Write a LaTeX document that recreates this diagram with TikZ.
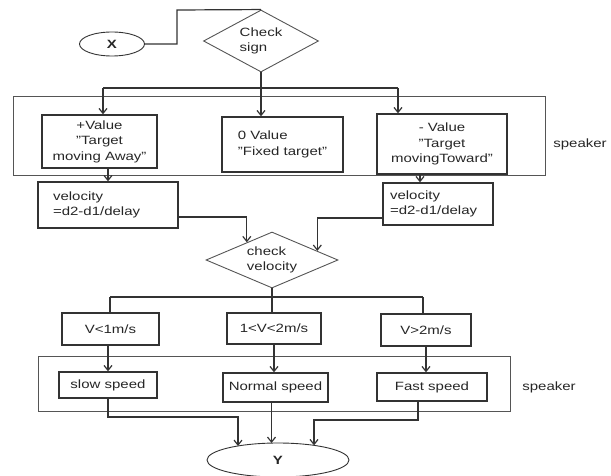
\documentclass[tikz,border=0pt]{standalone}
\usepackage{fontspec}
\setmainfont{Liberation Sans}[FakeStretch=1.25]
\usetikzlibrary{shapes.geometric,arrows.meta,calc}
\definecolor{lc}{HTML}{333333}
\definecolor{tc}{HTML}{262626}
\definecolor{fc}{HTML}{555555}
\definecolor{dc}{HTML}{555555}
\tikzset{
  every node/.style={text=tc, font=\fontsize{12}{15.5}\selectfont},
  box/.style={draw=lc, line width=1.3pt, align=center, inner sep=0pt},
  frame/.style={draw=fc, line width=1pt, inner sep=0pt},
  dec/.style={diamond, draw=dc, line width=0.9pt, aspect=2, inner sep=0pt, align=left},
  term/.style={ellipse, draw=lc, line width=0.9pt, inner sep=0pt, outer sep=0pt, font=\fontsize{12}{15.5}\selectfont\bfseries},
  conn/.style={draw=lc, line width=1.2pt},
  arr/.style={conn, -{Straight Barb[length=5pt,width=8pt]}},
}
\begin{document}
\begin{tikzpicture}[x=1pt,y=-1pt]
\useasboundingbox (0,0) rectangle (611,476);
% frames
\node[frame, minimum width=532, minimum height=79] (spk1) at (279,136.5) {};
\node[frame, minimum width=472, minimum height=55] (spk2) at (274,383.5) {};
% nodes
\node[term, minimum width=65, minimum height=24] (X) at (112,44) {X};
\node[dec, minimum width=115, minimum height=62] (check) at (261,41) {Check\\sign};
\node[box, minimum width=115, minimum height=53] (plus) at (99.5,141.5) {+Value\\"Target\\moving Away"};
\node[box, minimum width=121, minimum height=55, align=left] (zero) at (282.5,144.5) {0 Value\\"Fixed target"};
\node[box, minimum width=130, minimum height=60] (minus) at (442,144) {- Value\\"Target\\movingToward"};
\node (sp1) at (580,144) {speaker};
\node[box, minimum width=140, minimum height=46, align=left, text width=110] (velL) at (108,205) {velocity\\=d2-d1/delay};
\node[box, minimum width=110, minimum height=42, align=left, text width=96] (velR) at (438,204) {velocity\\=d2-d1/delay};
\node[dec, minimum width=132, minimum height=56] (checkV) at (272,260) {check\\velocity};
\node[box, minimum width=97, minimum height=32] (v1) at (110.5,329) {V<1m/s};
\node[box, minimum width=94, minimum height=31] (v12) at (274,328.5) {1<V<2m/s};
\node[box, minimum width=90, minimum height=32] (v2) at (426,330) {V>2m/s};
\node[box, minimum width=98, minimum height=26] (slow) at (108,385) {slow speed};
\node[box, minimum width=105, minimum height=29] (normal) at (275.5,387.5) {Normal speed};
\node[box, minimum width=110, minimum height=28] (fast) at (432,387) {Fast speed};
\node (sp2) at (549,387) {speaker};
\node[term, minimum width=142, minimum height=34] (Y) at (278,460) {Y};
% connectors top
\coordinate (c1) at (177,10);
\draw[conn] (X.east) -| (c1) -- (check.north);
\draw[arr] (check.south) -- (check.south |- zero.north);
\coordinate (b1) at (103,88);
\coordinate (b2) at (398,88);
\draw[conn] (b1) -- (b2);
\draw[arr] (b1) -- (b1 |- plus.north);
\draw[arr] (b2) -- (b2 |- minus.north);
\draw[arr] (velL.north |- plus.south) -- (velL.north);
\draw[arr] ($(minus.south)+(-22,0)$) coordinate (m1) -- (m1 |- velR.north);
\draw[arr] ($(velL.east)+(0,12)$) -| ($(checkV.west)!0.621!(checkV.north)$);
\draw[arr] ($(velR.west)+(0,14)$) -| ($(checkV.north)!0.682!(checkV.east)$);
% connectors lower
\coordinate (d1) at (110,297);
\coordinate (d2) at (423,297);
\draw[conn] (d1) -- (d2);
\draw[conn] (checkV.south) -- (checkV.south |- v12.north);
\draw[conn] (d1) -- (d1 |- v1.north);
\draw[conn] (d2) -- (d2 |- v2.north);
\draw[arr] (slow.north |- v1.south) -- (slow.north);
\draw[arr] (v12.south) -- (v12.south |- normal.north);
\draw[arr] (v2.south) -- (v2.south |- fast.north);
\coordinate (e1) at (238,417);
\draw[arr] (slow.south) |- (e1) -- (e1 |- Y.161);
\draw[arr] ($(normal.south)+(-4,0)$) coordinate (n1) -- (n1 |- Y.north);
\coordinate (e2) at (314,420);
\draw[arr] ($(fast.south)+(-14,0)$) |- (e2) -- (e2 |- Y.22);
\end{tikzpicture}
\end{document}
